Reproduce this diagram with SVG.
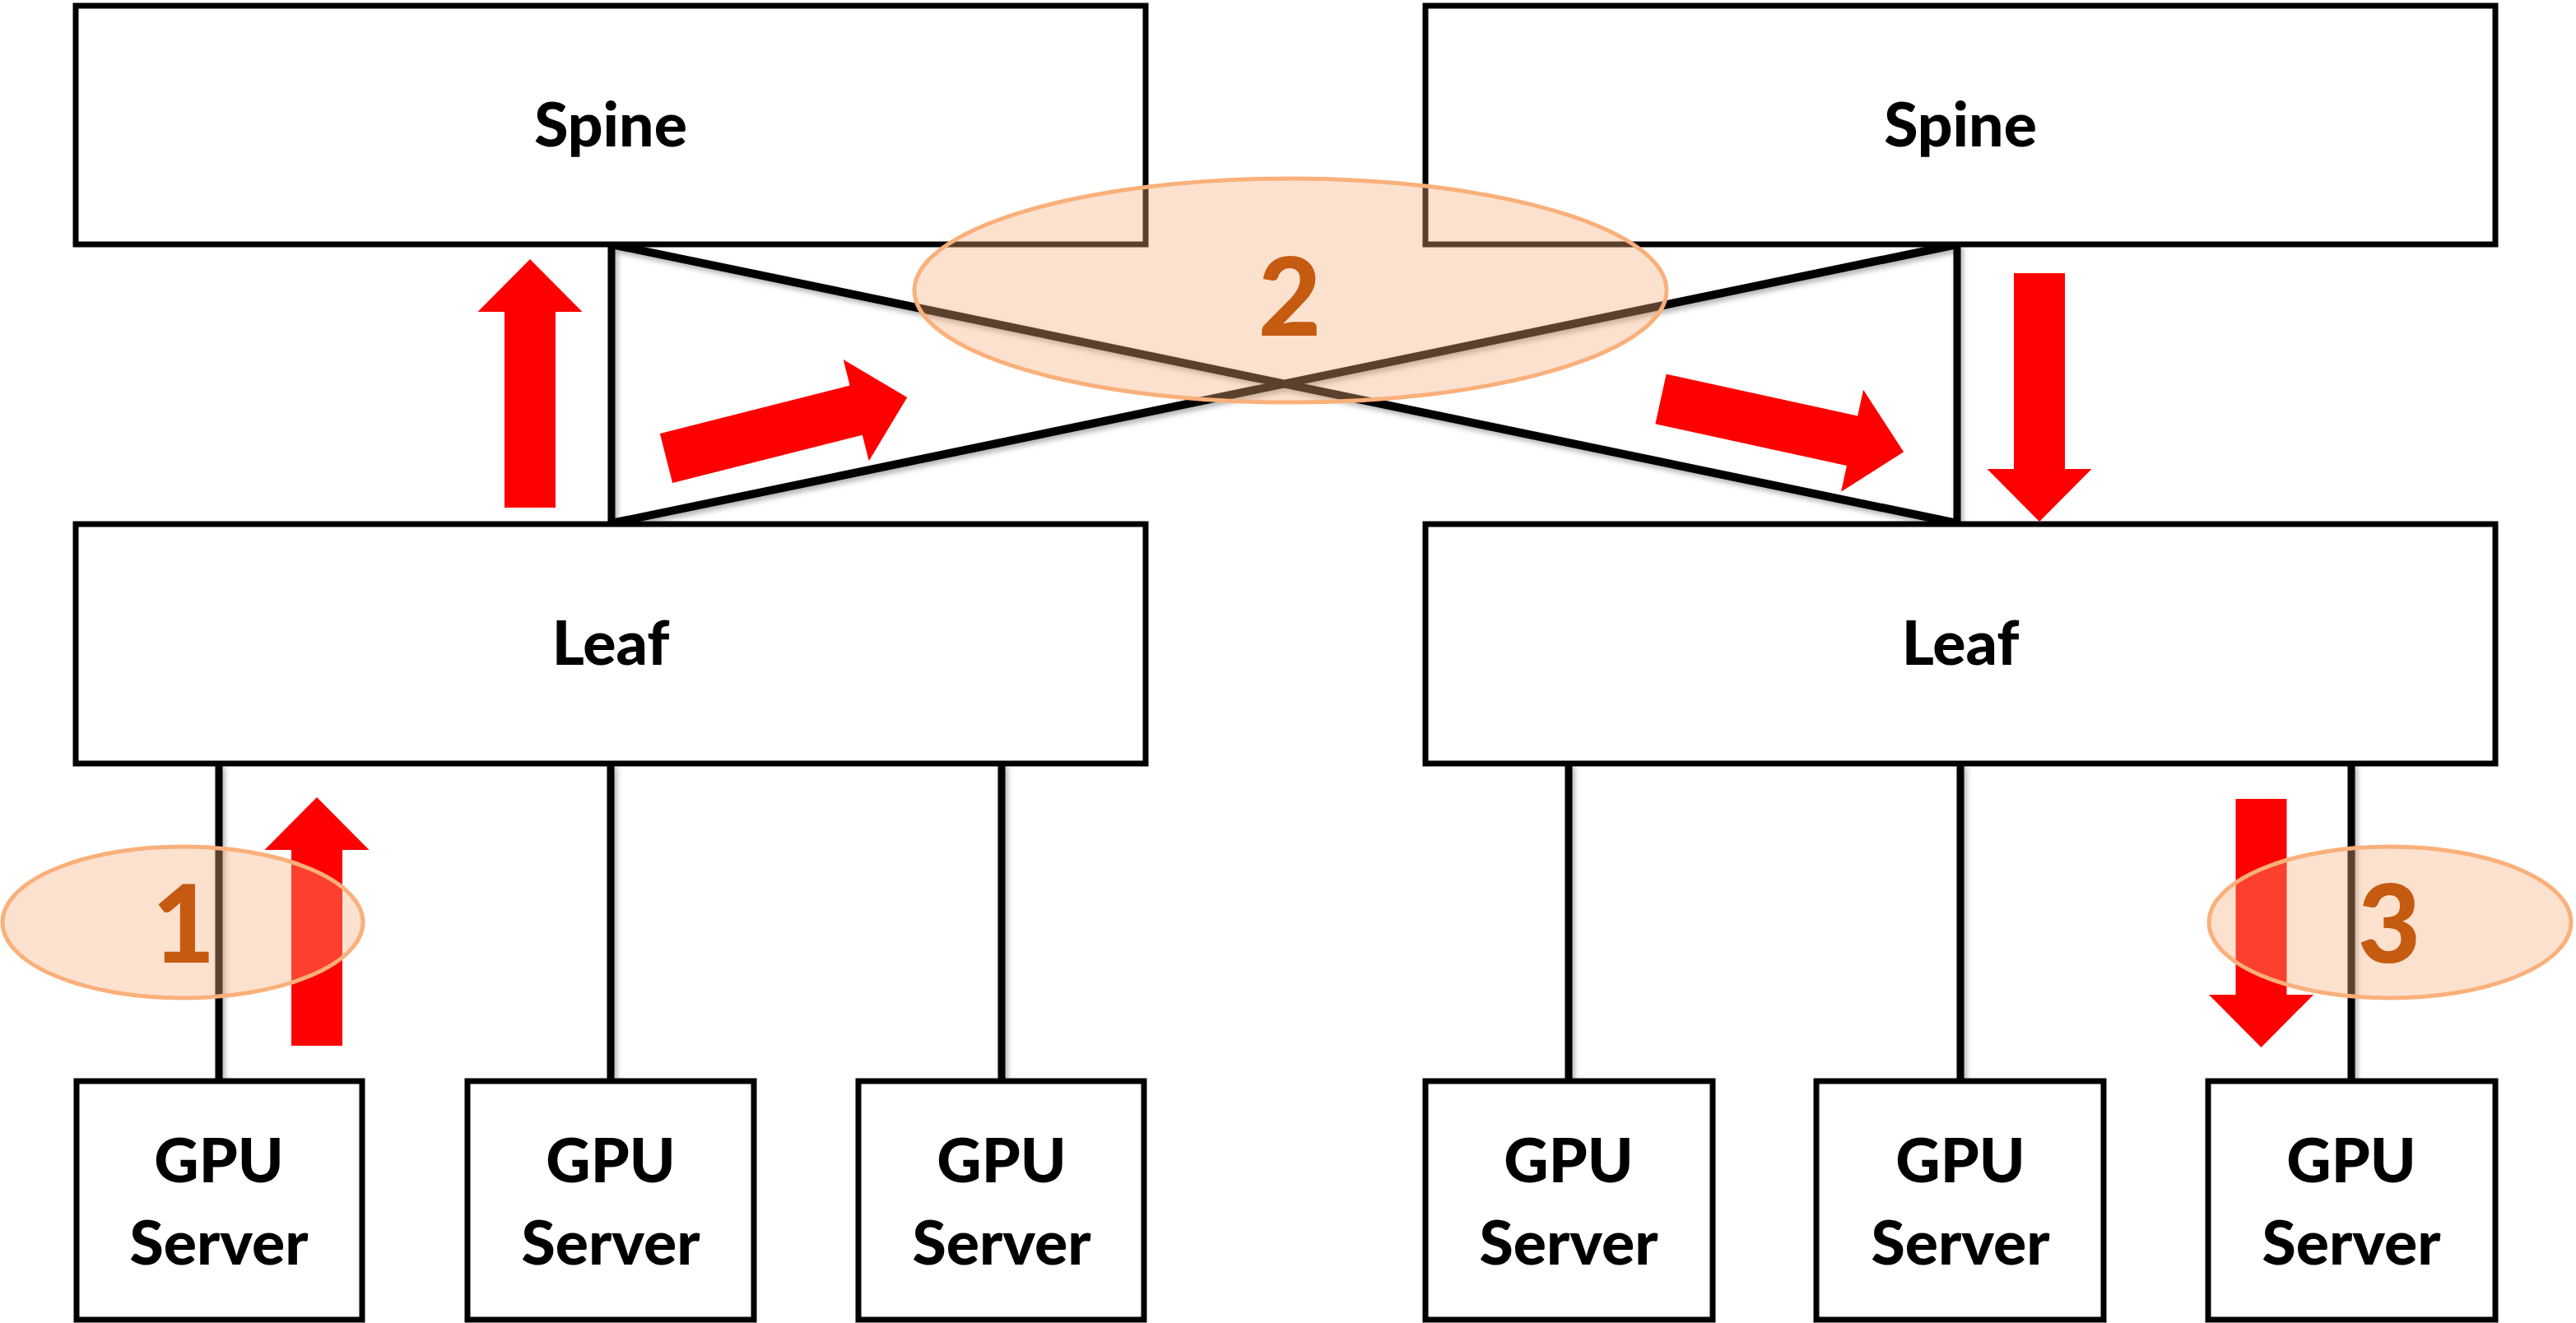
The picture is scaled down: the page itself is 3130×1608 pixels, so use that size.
<svg xmlns="http://www.w3.org/2000/svg" xmlns:xlink="http://www.w3.org/1999/xlink" width="3130" height="1608" viewBox="0 0 3130 1608">
<style>
.box{fill:#fff;stroke:#000;stroke-width:7}
.lbl{font-family:Lato,"Open Sans","Liberation Sans",sans-serif;font-weight:900;font-size:75px;fill:#000;text-anchor:middle}
.num{font-family:Lato,"Open Sans","Liberation Sans",sans-serif;font-weight:900;font-size:132px;fill:#C55A11;text-anchor:middle}
.conn{fill:none;stroke:#000;stroke-width:9}
.diag{fill:none;stroke:#000;stroke-width:10}
.arrow{fill:#FF0000}
.mark{fill:#F8AE7C;fill-opacity:0.37;stroke:#FAB07A;stroke-width:5}
</style>
<defs>
<filter id="sh" filterUnits="userSpaceOnUse" x="0" y="0" width="3130" height="1608">
<feDropShadow dx="3" dy="4" stdDeviation="3" flood-color="#000" flood-opacity="0.3"/>
</filter>
<path id="arr" d="M0,-31 H238 V-63.5 L302,0 L238,63.5 V31 H0 Z"/>
</defs>
<rect width="3130" height="1608" fill="#fff"/>
<g id="connectors" filter="url(#sh)">
<path class="conn" d="M743,297 V636 M2378,297 V636"/>
<path class="diag" d="M743,297 L2378,636 M743,636 L2378,297"/>
<path class="conn" d="M266,928 V1314 M742,928 V1314 M1217,928 V1314 M1906,928 V1314 M2382,928 V1314 M2857,928 V1314"/>
</g>
<g id="spine-left"><rect class="box" x="92" y="7" width="1300" height="290"/><text class="lbl" x="742" y="178">Spine</text></g>
<g id="spine-right"><rect class="box" x="1732" y="7" width="1300" height="290"/><text class="lbl" x="2382" y="178">Spine</text></g>
<g id="leaf-left"><rect class="box" x="92" y="637" width="1300" height="291"/><text class="lbl" x="742" y="808">Leaf</text></g>
<g id="leaf-right"><rect class="box" x="1732" y="637" width="1300" height="291"/><text class="lbl" x="2382" y="808">Leaf</text></g>
<g id="gpu-1"><rect class="box" x="93" y="1314" width="347" height="290"/><text class="lbl" x="266" y="1437">GPU</text><text class="lbl" x="266" y="1537">Server</text></g>
<g id="gpu-2"><rect class="box" x="568" y="1314" width="348" height="290"/><text class="lbl" x="742" y="1437">GPU</text><text class="lbl" x="742" y="1537">Server</text></g>
<g id="gpu-3"><rect class="box" x="1043" y="1314" width="347" height="290"/><text class="lbl" x="1217" y="1437">GPU</text><text class="lbl" x="1217" y="1537">Server</text></g>
<g id="gpu-4"><rect class="box" x="1732" y="1314" width="349" height="290"/><text class="lbl" x="1906" y="1437">GPU</text><text class="lbl" x="1906" y="1537">Server</text></g>
<g id="gpu-5"><rect class="box" x="2207" y="1314" width="349" height="290"/><text class="lbl" x="2382" y="1437">GPU</text><text class="lbl" x="2382" y="1537">Server</text></g>
<g id="gpu-6"><rect class="box" x="2683" y="1314" width="349" height="290"/><text class="lbl" x="2857" y="1437">GPU</text><text class="lbl" x="2857" y="1537">Server</text></g>
<g id="arrows">
<use xlink:href="#arr" class="arrow" transform="translate(644,617) rotate(-90)"/>
<use xlink:href="#arr" class="arrow" transform="translate(809.5,557) rotate(-14.2)"/>
<use xlink:href="#arr" class="arrow" transform="translate(2018,485) rotate(12.3)"/>
<use xlink:href="#arr" class="arrow" transform="translate(2478,332) rotate(90)"/>
<use xlink:href="#arr" class="arrow" transform="translate(385,1271) rotate(-90)"/>
<use xlink:href="#arr" class="arrow" transform="translate(2747.5,971) rotate(90)"/>
</g>
<g id="step-1"><ellipse class="mark" cx="222" cy="1121" rx="219" ry="92"/><text class="num" x="223" y="1170">1</text></g>
<g id="step-2"><ellipse class="mark" cx="1568" cy="353" rx="457" ry="136"/><text class="num" x="1567" y="408">2</text></g>
<g id="step-3"><ellipse class="mark" cx="2904" cy="1121" rx="220" ry="92"/><text class="num" x="2903" y="1170">3</text></g>
</svg>
